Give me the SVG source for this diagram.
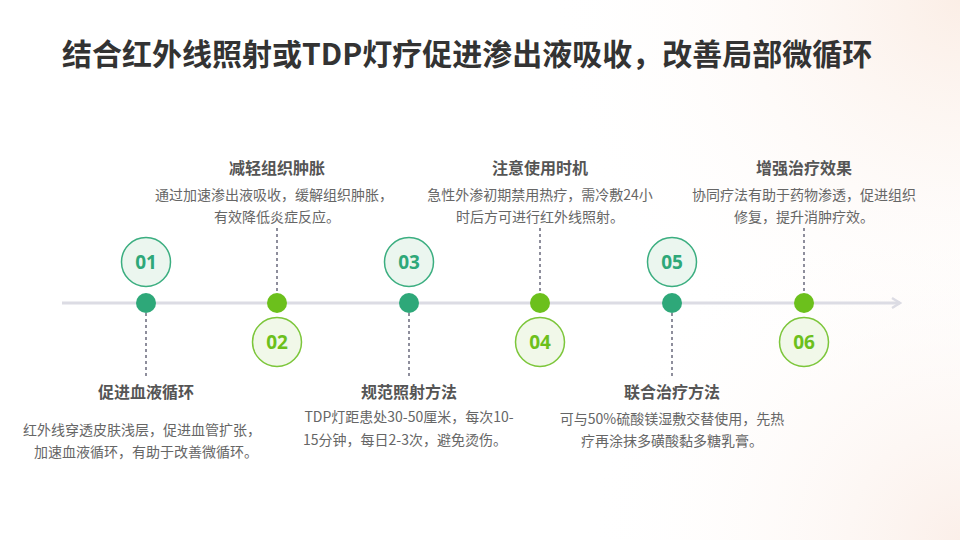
<svg xmlns="http://www.w3.org/2000/svg" width="960" height="540" viewBox="0 0 960 540">
<defs>
<radialGradient id="bg1" cx="960" cy="0" r="420" gradientUnits="userSpaceOnUse">
<stop offset="0" stop-color="#fbeee6"/><stop offset="1" stop-color="#ffffff" stop-opacity="0"/>
</radialGradient>
<radialGradient id="bg2" cx="960" cy="540" r="380" gradientUnits="userSpaceOnUse">
<stop offset="0" stop-color="#fbefe9"/><stop offset="1" stop-color="#ffffff" stop-opacity="0"/>
</radialGradient>
<marker id="arr" viewBox="0 0 12 12" refX="10" refY="6" markerWidth="12" markerHeight="12" markerUnits="userSpaceOnUse" orient="auto">
<path d="M2,1 L10,6 L2,11" fill="none" stroke="#dcdce4" stroke-width="2.4"/>
</marker>
</defs>
<style>
.ttl{font-family:"Noto Sans CJK SC","Noto Sans",sans-serif;font-weight:700;font-size:30px;fill:#333333}
.h{font-family:"Noto Sans CJK SC","Noto Sans",sans-serif;font-weight:700;font-size:16px;fill:#555555;text-anchor:middle}
.d{font-family:"Noto Sans CJK SC","Noto Sans",sans-serif;font-size:14px;fill:#666666;text-anchor:middle}
.num{font-family:"Noto Sans","Noto Sans CJK SC",sans-serif;font-weight:700;font-size:19px;text-anchor:middle}
.dash{stroke:#8e8e9c;stroke-width:2;stroke-dasharray:3 3;fill:none}
.ca{fill:#ebf6ef;stroke:#3bae80;stroke-width:1.5}
.cb{fill:#f1f8e9;stroke:#7cc63a;stroke-width:1.5}
.da{fill:#2ea879}
.db{fill:#6cc01c}
.ta{fill:#2ea879}
.tb{fill:#6cc01c}
</style>
<rect width="960" height="540" fill="#ffffff"/>
<rect width="960" height="540" fill="url(#bg1)"/>
<rect width="960" height="540" fill="url(#bg2)"/>
<text class="ttl" x="62" y="65">结合红外线照射或TDP灯疗促进渗出液吸收，改善局部微循环</text>
<g id="connectors">
<line x1="62" y1="303" x2="900" y2="303" stroke="#dcdce4" stroke-width="3" marker-end="url(#arr)"/>
<line class="dash" x1="146" y1="313" x2="146" y2="378"/>
<line class="dash" x1="277" y1="228" x2="277" y2="293"/>
<line class="dash" x1="409" y1="313" x2="409" y2="378"/>
<line class="dash" x1="540" y1="228" x2="540" y2="293"/>
<line class="dash" x1="672" y1="313" x2="672" y2="378"/>
<line class="dash" x1="804" y1="228" x2="804" y2="293"/>
</g>
<g id="node1">
<circle class="ca" cx="146" cy="262" r="24.5"/>
<text class="num ta" x="146" y="268.5">01</text>
<circle class="da" cx="146" cy="303" r="10"/>
<text class="h" x="146" y="398">促进血液循环</text>
<text class="d" x="142" y="435">红外线穿透皮肤浅层，促进血管扩张，</text>
<text class="d" x="146" y="457">加速血液循环，有助于改善微循环。</text>
</g>
<g id="node2">
<circle class="cb" cx="277" cy="342" r="24.5"/>
<text class="num tb" x="277" y="348.5">02</text>
<circle class="db" cx="277" cy="303" r="10"/>
<text class="h" x="277" y="174">减轻组织肿胀</text>
<text class="d" x="274" y="200">通过加速渗出液吸收，缓解组织肿胀，</text>
<text class="d" x="277" y="222">有效降低炎症反应。</text>
</g>
<g id="node3">
<circle class="ca" cx="409" cy="262" r="24.5"/>
<text class="num ta" x="409" y="268.5">03</text>
<circle class="da" cx="409" cy="303" r="10"/>
<text class="h" x="409" y="398">规范照射方法</text>
<text class="d" x="409" y="422">TDP灯距患处30-50厘米，每次10-</text>
<text class="d" x="405" y="445">15分钟，每日2-3次，避免烫伤。</text>
</g>
<g id="node4">
<circle class="cb" cx="540" cy="342" r="24.5"/>
<text class="num tb" x="540" y="348.5">04</text>
<circle class="db" cx="540" cy="303" r="10"/>
<text class="h" x="540" y="174">注意使用时机</text>
<text class="d" x="540" y="200">急性外渗初期禁用热疗，需冷敷24小</text>
<text class="d" x="540" y="222">时后方可进行红外线照射。</text>
</g>
<g id="node5">
<circle class="ca" cx="672" cy="262" r="24.5"/>
<text class="num ta" x="672" y="268.5">05</text>
<circle class="da" cx="672" cy="303" r="10"/>
<text class="h" x="672" y="398">联合治疗方法</text>
<text class="d" x="672" y="424">可与50%硫酸镁湿敷交替使用，先热</text>
<text class="d" x="672" y="446">疗再涂抹多磺酸黏多糖乳膏。</text>
</g>
<g id="node6">
<circle class="cb" cx="804" cy="342" r="24.5"/>
<text class="num tb" x="804" y="348.5">06</text>
<circle class="db" cx="804" cy="303" r="10"/>
<text class="h" x="804" y="174">增强治疗效果</text>
<text class="d" x="804" y="200">协同疗法有助于药物渗透，促进组织</text>
<text class="d" x="804" y="222">修复，提升消肿疗效。</text>
</g>
</svg>
